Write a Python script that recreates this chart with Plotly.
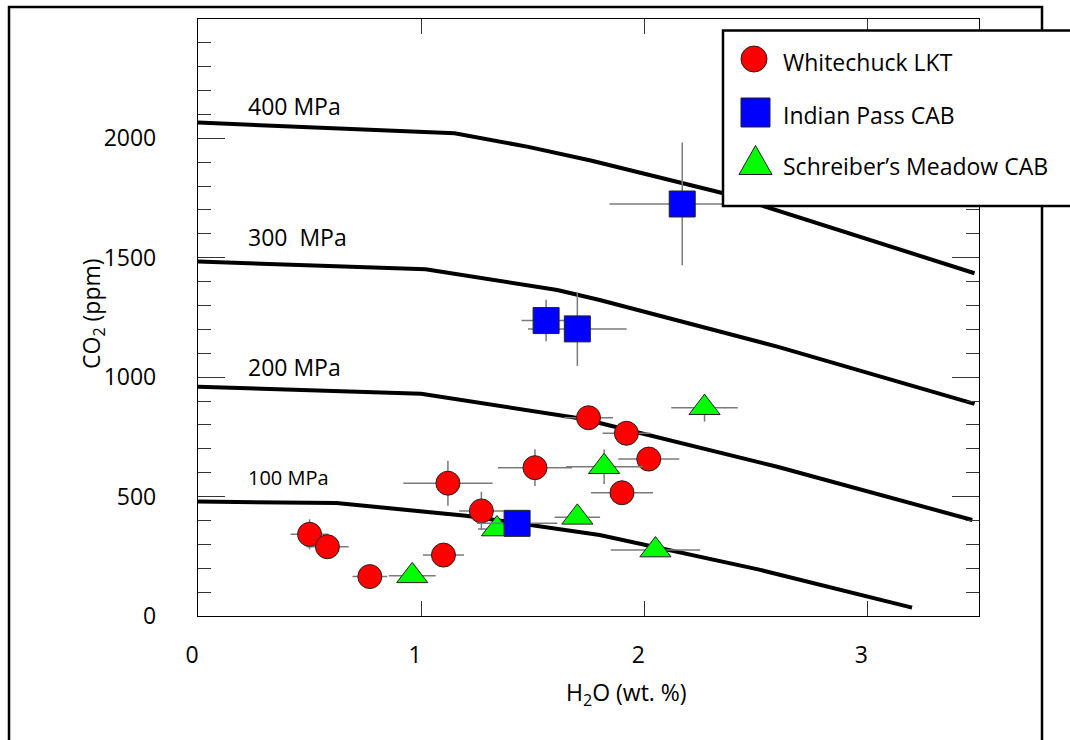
import plotly.graph_objects as go

# ---------------- data ----------------
# Whitechuck LKT melt inclusions
wc_h2o = [0.50, 0.58, 0.77, 1.10, 1.12, 1.27, 1.51, 1.75, 1.92, 1.90, 2.02]
wc_co2 = [342, 290, 165, 255, 556, 440, 621, 830, 765, 516, 657]
wc_h2o_err = [0.085, 0.095, 0.078, 0.092, 0.20, 0.10, 0.166, 0.11, 0.107, 0.139, 0.137]
wc_co2_err = [63, 40, 30, 40, 94, 80, 77, 40, 40, 40, 40]

# Indian Pass CAB
ip_h2o = [2.17, 1.56, 1.70, 1.43]
ip_co2 = [1725, 1237, 1202, 388]
ip_h2o_err = [0.326, 0.11, 0.221, 0.18]
ip_co2_err = [257, 87, 155, 30]

# Schreiber's Meadow CAB
sm_h2o = [0.96, 1.34, 1.70, 1.82, 2.05, 2.27]
sm_co2 = [168, 364, 413, 625, 276, 872]
sm_h2o_err = [0.105, 0.085, 0.102, 0.17, 0.20, 0.149]
sm_co2_err = [20, 20, 20, 72, 20, 58]

# Vapour-saturation isobars
iso_400_h2o = [0.0, 1.15, 1.48, 1.76, 2.35, 3.48]
iso_400_co2 = [2066, 2021, 1964, 1907, 1771, 1435]
iso_300_h2o = [0.0, 1.02, 1.61, 1.80, 2.60, 3.48]
iso_300_co2 = [1484, 1452, 1365, 1323, 1127, 888]
iso_200_h2o = [0.0, 1.00, 1.70, 1.80, 2.60, 3.47]
iso_200_co2 = [960, 930, 829, 808, 624, 402]
iso_100_h2o = [0.0, 0.62, 1.20, 1.80, 2.52, 3.20]
iso_100_co2 = [479, 473, 420, 339, 193, 35]

isobar_labels = ["400 MPa", "300\u00a0 MPa", "200 MPa", "100 MPa"]

series_names = ["Whitechuck LKT", "Indian Pass CAB", "Schreiber\u2019s Meadow CAB"]
series_colors = ["#ff0000", "#0000ff", "#00ff00"]

# ---------------- layout geometry (pixels) ----------------
W, H = 1070, 740
PLOT_L, PLOT_R, PLOT_T, PLOT_B = 198, 979, 19, 616
FONT = "Open Sans"


def px(x):
    return (x - PLOT_L) / (PLOT_R - PLOT_L)


def py(y):
    return (PLOT_B - y) / (PLOT_B - PLOT_T)


fig = go.Figure()

# isobars
for xs, ys in [(iso_400_h2o, iso_400_co2), (iso_300_h2o, iso_300_co2),
               (iso_200_h2o, iso_200_co2), (iso_100_h2o, iso_100_co2)]:
    fig.add_trace(go.Scatter(x=xs, y=ys, mode="lines",
                             line=dict(color="black", width=4),
                             hoverinfo="skip", showlegend=False))

err_style = dict(type="data", color="#7a7a7a", thickness=1.5, width=0)
outline = dict(color="#222222", width=1)

fig.add_trace(go.Scatter(
    x=wc_h2o, y=wc_co2, mode="markers", name=series_names[0],
    marker=dict(symbol="circle", size=24, color=series_colors[0], line=outline),
    error_x=dict(array=wc_h2o_err, **err_style),
    error_y=dict(array=wc_co2_err, **err_style),
    showlegend=False))

fig.add_trace(go.Scatter(
    x=sm_h2o, y=sm_co2, mode="markers", name=series_names[2],
    marker=dict(symbol="triangle-up", size=27, color=series_colors[2], line=outline),
    error_x=dict(array=sm_h2o_err, **err_style),
    error_y=dict(array=sm_co2_err, **err_style),
    showlegend=False))

fig.add_trace(go.Scatter(
    x=ip_h2o, y=ip_co2, mode="markers", name=series_names[1],
    marker=dict(symbol="square", size=26, color=series_colors[1], line=outline),
    error_x=dict(array=ip_h2o_err, **err_style),
    error_y=dict(array=ip_co2_err, **err_style),
    showlegend=False))

shapes = []
# outer frame
shapes.append(dict(type="rect", xref="paper", yref="paper",
                   x0=px(9), x1=px(1042), y0=py(780), y1=py(7),
                   line=dict(color="black", width=2.5), layer="above"))
# legend box
shapes.append(dict(type="rect", xref="paper", yref="paper",
                   x0=px(723), x1=px(1090), y0=py(206), y1=py(30.5),
                   fillcolor="white", line=dict(color="black", width=2.5), layer="above"))
# legend swatches
shapes.append(dict(type="circle", xref="paper", yref="paper",
                   x0=px(741), x1=px(767), y0=py(72), y1=py(46),
                   fillcolor=series_colors[0], line=outline, layer="above"))
shapes.append(dict(type="rect", xref="paper", yref="paper",
                   x0=px(741), x1=px(770), y0=py(127), y1=py(98),
                   fillcolor=series_colors[1], line=outline, layer="above"))
tri = [(739, 174.5), (772, 174.5), (755.5, 145.5)]
shapes.append(dict(type="path", xref="paper", yref="paper",
                   path="M {} {} L {} {} L {} {} Z".format(
                       px(tri[0][0]), py(tri[0][1]), px(tri[1][0]), py(tri[1][1]),
                       px(tri[2][0]), py(tri[2][1])),
                   fillcolor=series_colors[2], line=outline, layer="above"))

annotations = []
for name, yc in zip(series_names, [62, 115, 166]):
    annotations.append(dict(x=px(781), y=py(yc), xref="paper", yref="paper",
                            text=name, showarrow=False, xanchor="left", yanchor="middle",
                            font=dict(family=FONT, size=23, color="black")))

for lab, yc, fs in zip(isobar_labels, [106, 237, 367, 477], [23, 23, 23, 20]):
    annotations.append(dict(x=px(246), y=py(yc), xref="paper", yref="paper",
                            text=lab, showarrow=False, xanchor="left", yanchor="middle",
                            font=dict(family=FONT, size=fs, color="black")))

# axis titles
annotations.append(dict(x=px(626), y=py(694), xref="paper", yref="paper",
                        text="H<sub>2</sub>O (wt. %)", showarrow=False,
                        xanchor="center", yanchor="middle",
                        font=dict(family=FONT, size=23, color="black")))
annotations.append(dict(x=px(92), y=py(314), xref="paper", yref="paper",
                        text="CO<sub>2</sub> (ppm)", showarrow=False, textangle=-90,
                        xanchor="center", yanchor="middle",
                        font=dict(family=FONT, size=23, color="black")))

fig.update_layout(
    width=W, height=H,
    margin=dict(l=PLOT_L, r=W - PLOT_R, t=PLOT_T, b=H - PLOT_B, pad=0),
    paper_bgcolor="white", plot_bgcolor="white",
    showlegend=False,
    shapes=shapes, annotations=annotations,
    font=dict(family=FONT, size=23, color="black"),
)

fig.update_xaxes(
    range=[0, 3.5], dtick=1, tick0=0,
    showgrid=False, zeroline=False,
    showline=True, linecolor="black", linewidth=1.3, mirror="ticks",
    ticks="inside", ticklen=15, tickwidth=1, tickcolor="#333333",
    ticklabelstandoff=18, ticklabelshift=-6,
    tickfont=dict(family=FONT, size=23, color="black"),
)
fig.update_yaxes(
    range=[0, 2499.5], dtick=500, tick0=0,
    showgrid=False, zeroline=False,
    showline=True, linecolor="black", linewidth=1.3, mirror="ticks",
    ticks="inside", ticklen=27, tickwidth=1, tickcolor="#333333",
    minor=dict(dtick=100, tick0=0, ticks="inside", ticklen=13, tickwidth=1,
               tickcolor="#333333", showgrid=False),
    ticklabelstandoff=36,
    tickfont=dict(family=FONT, size=23, color="black"),
)

fig.write_html("out.html")
